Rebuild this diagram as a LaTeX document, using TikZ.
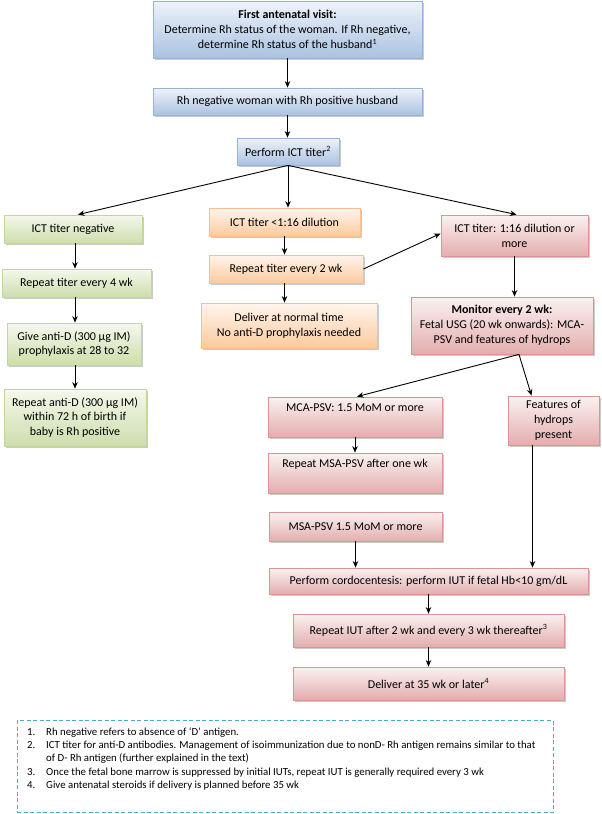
\documentclass[tikz,border=0pt]{standalone}
\usepackage{fontspec}
\setmainfont{Carlito}
\usetikzlibrary{arrows.meta,shadows,calc}
\definecolor{bluetop}{HTML}{EEF3FA}
\definecolor{bluebot}{HTML}{AAC2E1}
\definecolor{blueline}{HTML}{95B3D7}
\definecolor{greentop}{HTML}{F5F8EC}
\definecolor{greenbot}{HTML}{CDDEAC}
\definecolor{greenline}{HTML}{C3D69B}
\definecolor{orangetop}{HTML}{FFF5EC}
\definecolor{orangebot}{HTML}{FBCA9F}
\definecolor{orangeline}{HTML}{F9BE8E}
\definecolor{pinktop}{HTML}{FBF1F1}
\definecolor{pinkbot}{HTML}{E2AEAD}
\definecolor{pinkline}{HTML}{D99594}
\definecolor{notecol}{HTML}{4BACC6}
\tikzset{
  box/.style={draw, line width=0.8pt, align=center, inner sep=2pt,
    font=\fontsize{12}{14.8}\selectfont,
    drop shadow={shadow xshift=1.5pt, shadow yshift=-1.5pt, fill=black!45, opacity=0.45}},
  bluebox/.style={box, draw=blueline, top color=bluetop, bottom color=bluebot},
  greenbox/.style={box, draw=greenline, top color=greentop, bottom color=greenbot},
  orangebox/.style={box, draw=orangeline, top color=orangetop, bottom color=orangebot},
  pinkbox/.style={box, draw=pinkline, top color=pinktop, bottom color=pinkbot},
  arr/.style={draw=black, line width=0.9pt, -{Stealth[length=6.5pt,width=5.5pt]}},
}
\begin{document}
\begin{tikzpicture}[x=1pt,y=-1pt]
\useasboundingbox (0,0) rectangle (602,814);
% top column
\node[bluebox, minimum width=269, minimum height=57] (visit) at (287.5,29.5)
  {\textbf{First antenatal visit:}\\Determine Rh status of the woman. If Rh negative,\\determine Rh status of the husband\textsuperscript{1}};
\node[bluebox, minimum width=269, minimum height=27] (rhneg) at (287.5,101.5)
  {Rh negative woman with Rh positive husband};
\node[bluebox, minimum width=102, minimum height=27] (ict) at (288,151.5)
  {Perform ICT titer\textsuperscript{2}};
% left column
\node[greenbox, minimum width=138, minimum height=28] (neg) at (73,229) {ICT titer negative};
\node[greenbox, minimum width=149, minimum height=28] (rep4) at (76.5,283) {Repeat titer every 4 wk};
\node[greenbox, minimum width=134, minimum height=42] (antid) at (74,344)
  {Give anti-D (300 µg IM)\\prophylaxis at 28 to 32};
\node[greenbox, minimum width=142, minimum height=57] (repanti) at (75,417.5)
  {Repeat anti-D (300 µg IM)\\within 72 h of birth if\\baby is Rh positive};
% middle column
\node[orangebox, minimum width=151, minimum height=28] (low) at (284.5,222) {ICT titer <1:16 dilution};
\node[orangebox, minimum width=154, minimum height=28] (rep2) at (286,269) {Repeat titer every 2 wk};
\node[orangebox, minimum width=176, minimum height=45] (deliv) at (289,325.5)
  {Deliver at normal time\\No anti-D prophylaxis needed};
% right column
\node[pinkbox, minimum width=147, minimum height=41] (high) at (514.5,235.5)
  {ICT titer: 1:16 dilution or\\more};
\node[pinkbox, minimum width=182, minimum height=57] (monitor) at (502,325.5)
  {\textbf{Monitor every 2 wk:}\\Fetal USG (20 wk onwards): MCA-\\PSV and features of hydrops};
\node[pinkbox, minimum width=174, minimum height=40] (mca) at (355,417)
  {MCA-PSV: 1.5 MoM or more\\[0pt]\strut};
\node[pinkbox, minimum width=91, minimum height=49] (feat) at (553.5,420.5)
  {Features of\\hydrops\\present};
\node[pinkbox, minimum width=174, minimum height=40] (repmsa) at (355,473)
  {Repeat MSA-PSV after one wk\\[0pt]\strut};
\node[pinkbox, minimum width=173, minimum height=29] (msa) at (355.5,526.5)
  {MSA-PSV 1.5 MoM or more};
\node[pinkbox, minimum width=319, minimum height=26] (cordo) at (428.5,581)
  {Perform cordocentesis: perform IUT if fetal Hb<10 gm/dL};
\node[pinkbox, minimum width=271, minimum height=33] (repiut) at (428.5,630.5)
  {Repeat IUT after 2 wk and every 3 wk thereafter\textsuperscript{3}};
\node[pinkbox, minimum width=271, minimum height=33] (del35) at (428.5,683.5)
  {Deliver at 35 wk or later\textsuperscript{4}};
% connectors
\draw[arr] (visit.south) -- (rhneg.north);
\draw[arr] (rhneg.south) -- (rhneg.south |- ict.north);
\draw[arr] (ict.south) -- ($(neg.north)+(5,0)$);
\draw[arr] (ict.south) -- (ict.south |- low.north);
\draw[arr] (ict.south) -- ($(high.north)+(2,0)$);
\draw[arr] (neg.south -| repanti) -- (rep4.north -| repanti);
\draw[arr] (rep4.south -| repanti) -- (antid.north -| repanti);
\draw[arr] (antid.south -| repanti) -- (repanti.north);
\draw[arr] (low.south) -- (low.south |- rep2.north);
\draw[arr] (rep2.south -| low) -- (deliv.north -| low);
\draw[arr] (rep2.east) -- ($(high.west)+(0,-2)$);
\draw[arr] (high.south) -- (high.south |- monitor.north);
\coordinate (ms) at ($(monitor.south)+(17,0)$);
\draw[arr] (ms) -- ($(mca.north)+(2,0)$);
\draw[arr] (ms) -- ($(feat.north)+(-22,0)$);
\draw[arr] (mca.south) -- (repmsa.north);
\draw[arr] (msa.south) -- (msa.south |- cordo.north);
\coordinate (fs) at ($(feat.south)+(-21,0)$);
\draw[arr] (fs) -- (fs |- cordo.north);
\draw[arr] (cordo.south -| repiut) -- (repiut.north);
\draw[arr] (repiut.south) -- (del35.north);
% footnotes
\node[draw=notecol, line width=1pt, dash pattern=on 4pt off 2.5pt,
      minimum width=536, minimum height=92, inner sep=0] (notebox) at (285,766.5) {};
\node[anchor=north west, inner sep=0, align=left, font=\fontsize{10.8}{13.2}\selectfont] (notes) at (27,726)
  {\begin{tabular}{@{}p{12pt}@{\hspace{7pt}}l@{}}
   1. & Rh negative refers to absence of ‘D’ antigen.\\
   2. & ICT titer for anti-D antibodies. Management of isoimmunization due to nonD- Rh antigen remains similar to that\\
      & of D- Rh antigen (further explained in the text)\\
   3. & Once the fetal bone marrow is suppressed by initial IUTs, repeat IUT is generally required every 3 wk\\
   4. & Give antenatal steroids if delivery is planned before 35 wk
   \end{tabular}};
\end{tikzpicture}
\end{document}
